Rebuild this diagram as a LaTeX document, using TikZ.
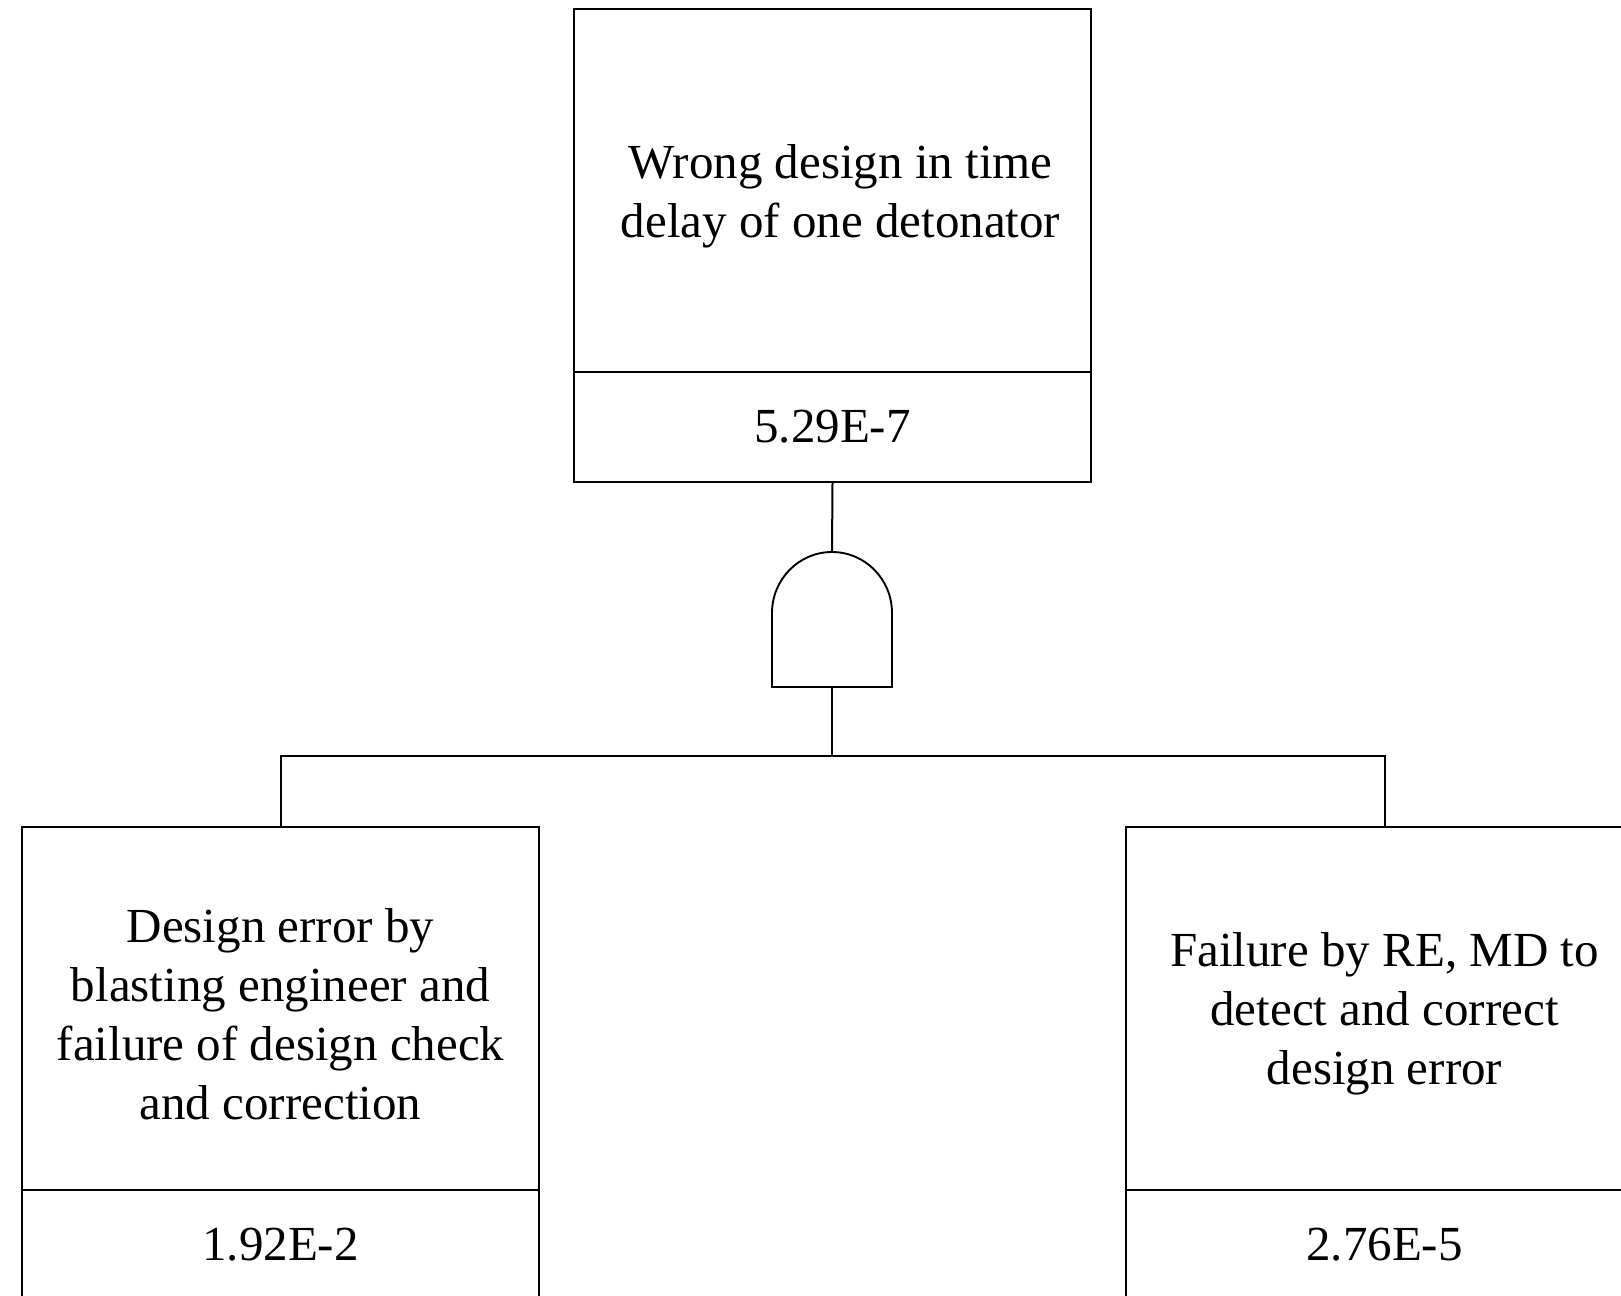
\documentclass[tikz,border=0pt]{standalone}
\usepackage{fontspec}
\setmainfont{Liberation Serif}
\begin{document}
\begin{tikzpicture}[x=1pt,y=-1pt,
  every node/.style={font=\fontsize{49}{59}\selectfont},
  evbox/.style={draw, line width=1.9pt, rectangle, inner sep=0pt, minimum width=517pt, minimum height=363pt},
  evtext/.style={inner sep=0pt, align=center},
  valbox/.style={draw, line width=1.9pt, rectangle, inner sep=0pt, minimum width=517pt, minimum height=110pt, align=center},
  wire/.style={line width=2pt}]
\useasboundingbox (0,0) rectangle (1621,1295);
% top event
\node[evbox] (tbox) at (832.5,190.5) {};
\node[evtext] (ttxt) at ([xshift=8pt,yshift=-6pt]tbox.center) {Wrong design in time\\delay of one detonator};
\node[valbox] (tval) at (832.5,427) {5.29E-7};
% left event
\node[evbox] (lbox) at (280.5,1008.5) {};
\node[evtext] (ltxt) at ([yshift=-6pt]lbox.center) {Design error by\\blasting engineer and\\failure of design check\\and correction};
\node[valbox] (lval) at (280.5,1245) {1.92E-2};
% right event
\node[evbox] (rbox) at (1384.5,1008.5) {};
\node[evtext] (rtxt) at ([yshift=-5pt]rbox.center) {Failure by RE, MD to\\detect and correct\\design error};
\node[valbox] (rval) at (1384.5,1245) {2.76E-5};
% AND gate
\coordinate (gtop) at (832,552);
\coordinate (gbot) at (832,687);
\draw[line width=1.9pt] (gbot) -- (772,687) -- (772,613) arc[start angle=180, end angle=0, x radius=60, y radius=-61] -- (892,687) -- cycle;
\coordinate (bus) at (832,756);
\draw[wire] (tval.south) -- (gtop);
\draw[wire] (gbot) -- (bus);
\draw[wire] (lbox.north) |- (bus) -| (rbox.north);
\end{tikzpicture}
\end{document}
